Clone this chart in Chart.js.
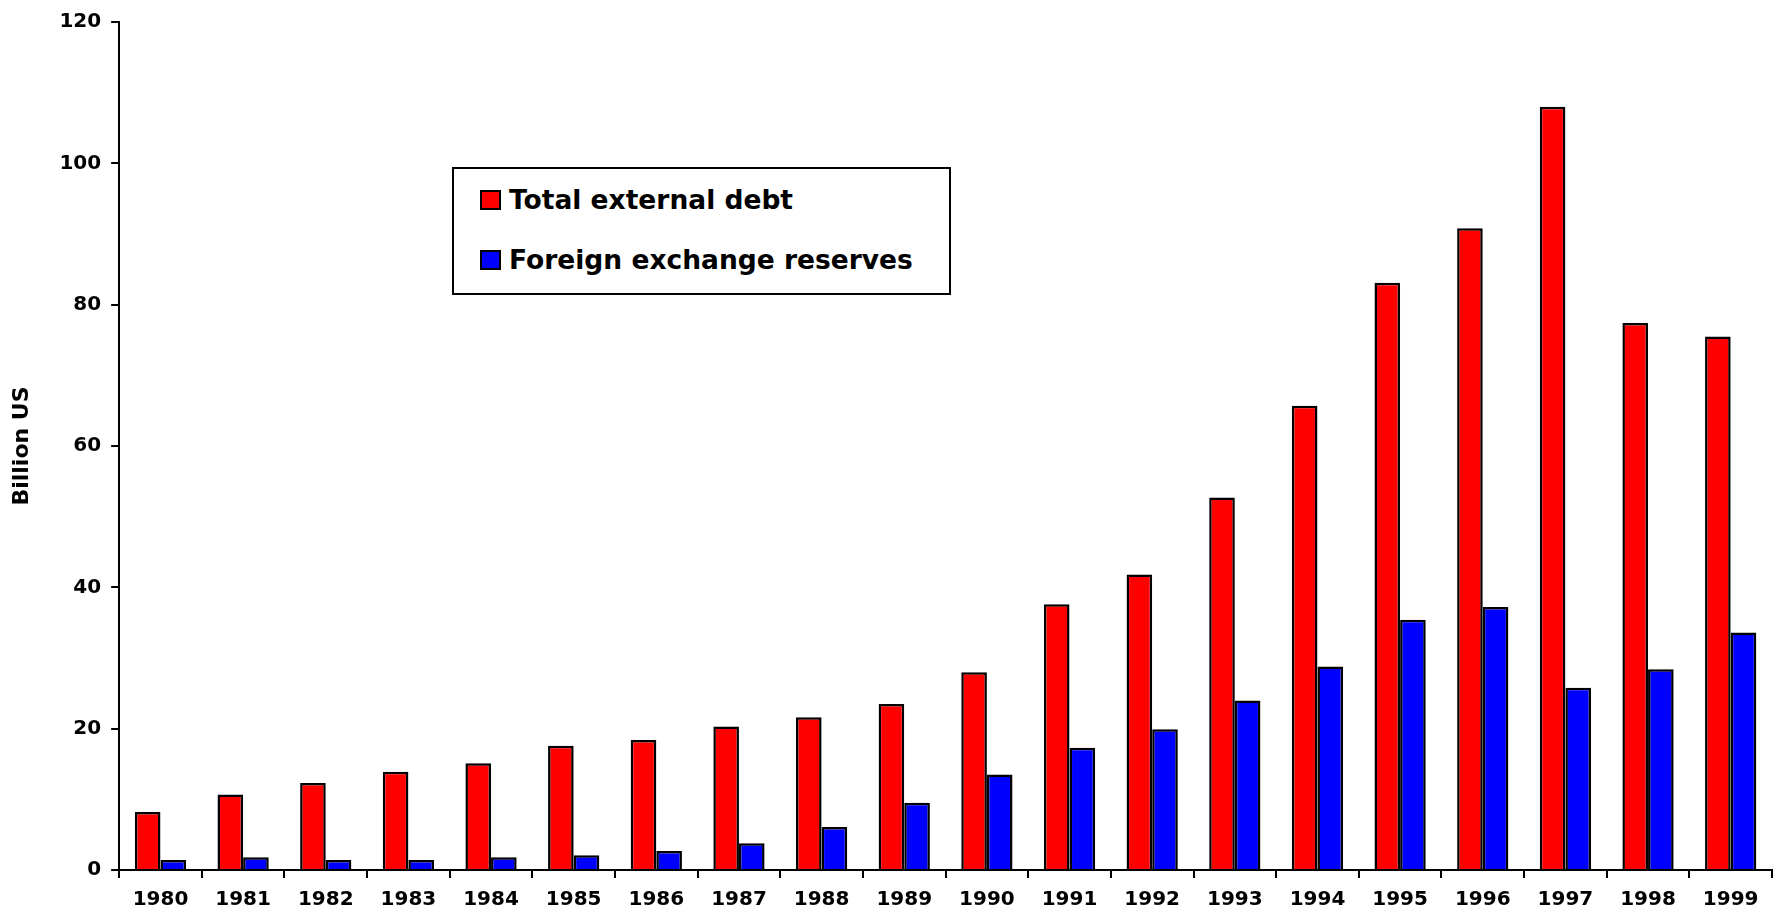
<!DOCTYPE html>
<html>
<head>
<meta charset="utf-8">
<script src="https://cdn.jsdelivr.net/npm/chart.js@4/dist/chart.umd.min.js"></script>
<style>
  html, body { margin: 0; padding: 0; background: #fff; }
  #wrap { position: relative; width: 1778px; height: 913px; }
  #legend {
    position: absolute; left: 452px; top: 167px; width: 495px; height: 124px;
    border: 2px solid #000; background: #fff; box-sizing: content-box;
    font-family: "DejaVu Sans", sans-serif; font-weight: bold; font-size: 26.5px;
  }
  .row { position: absolute; left: 26px; height: 30px; line-height: 30px; display: flex; align-items: center; }
  .sw { width: 17px; height: 16px; border: 2px solid #000; margin-right: 8px; }
</style>
</head>
<body>
<div id="wrap">
  <canvas id="debtChart" width="1778" height="913"></canvas>
  <div id="legend"></div>
</div>
<script>
// Years on the category axis
const years = ["1980","1981","1982","1983","1984","1985","1986","1987","1988","1989",
               "1990","1991","1992","1993","1994","1995","1996","1997","1998","1999"];

// Billion US dollars
const externalDebt = [8.2, 10.7, 12.3, 13.9, 15.1, 17.6, 18.4, 20.3, 21.6, 23.5,
                      28.0, 37.6, 41.8, 52.7, 65.7, 83.1, 90.8, 108.0, 77.4, 75.5];
const fxReserves = [1.4, 1.8, 1.4, 1.4, 1.8, 2.1, 2.7, 3.8, 6.1, 9.5,
                    13.5, 17.3, 19.9, 24.0, 28.8, 35.4, 37.2, 25.8, 28.4, 33.6];

const seriesNames = ["Total external debt", "Foreign exchange reserves"];
const seriesColors = ["#ff0000", "#0000ff"];

const FONT = "'DejaVu Sans', sans-serif";

const chart = new Chart(document.getElementById("debtChart"), {
  type: "bar",
  data: {
    labels: years,
    datasets: [externalDebt, fxReserves].map((vals, i) => ({
      label: seriesNames[i],
      data: vals,
      backgroundColor: seriesColors[i],
      borderColor: "#000",
      borderWidth: 2.5,
      categoryPercentage: 0.62,
      barPercentage: 1.0
    }))
  },
  options: {
    responsive: false,
    animation: false,
    devicePixelRatio: 1,
    layout: { padding: { top: 8, right: 6, bottom: -9, left: 9 } },
    plugins: {
      legend: { display: false },
      tooltip: { enabled: false }
    },
    scales: {
      x: {
        border: { color: "#000", width: 2 },
        grid: { display: true, drawOnChartArea: false, drawTicks: true, tickLength: 8, color: "#000", lineWidth: 2, offset: true },
        ticks: { color: "#000", font: { family: FONT, weight: "bold", size: 20, lineHeight: 1 }, padding: 12, maxRotation: 0, autoSkip: false }
      },
      y: {
        min: 0, max: 120,
        border: { color: "#000", width: 2 },
        grid: { display: true, drawOnChartArea: false, drawTicks: true, tickLength: 8, color: "#000", lineWidth: 2 },
        ticks: { stepSize: 20, color: "#000", font: { family: FONT, weight: "bold", size: 20 }, padding: 10 },
        title: { display: true, text: "Billion US", color: "#000", font: { family: FONT, weight: "bold", size: 22 }, padding: { top: 0, bottom: 14 } }
      }
    }
  }
});

// Boxed legend inside the plot area
const legend = document.getElementById("legend");
seriesNames.forEach((name, i) => {
  const row = document.createElement("div");
  row.className = "row";
  row.style.top = (i === 0 ? 16 : 76) + "px";
  const sw = document.createElement("span");
  sw.className = "sw";
  sw.style.background = seriesColors[i];
  const txt = document.createElement("span");
  txt.textContent = name;
  row.appendChild(sw);
  row.appendChild(txt);
  legend.appendChild(row);
});
</script>
</body>
</html>
